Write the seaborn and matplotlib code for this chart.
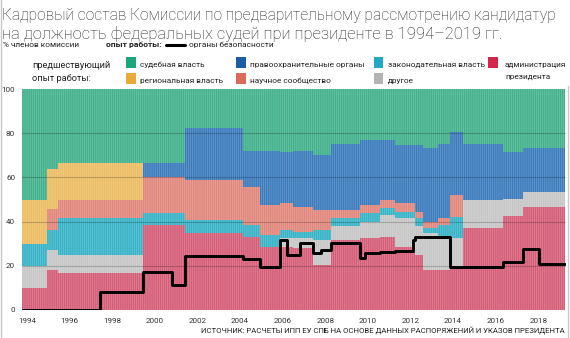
import numpy as np
import pandas as pd
import matplotlib
matplotlib.use("Agg")
import matplotlib.pyplot as plt
import seaborn as sns
from matplotlib import font_manager as fm
from matplotlib.patches import Rectangle
from matplotlib.lines import Line2D

# ---------------- data (shares of commission members, %) ----------------
years = [1993.77, 1994.92, 1995.47, 1999.45, 2001.42, 2004.15, 2004.94, 2005.88,
         2006.49, 2007.43, 2008.28, 2009.63, 2010.57, 2011.28, 2012.2, 2012.6,
         2013.3, 2013.86, 2014.47, 2016.35, 2017.29, 2018.04]
end_year = 2019.23
admin    = [10, 18.2, 16.7, 38.5, 34.7, 33.2, 28.6, 28.6, 27.9, 20.4, 31.5, 32.4, 33.2, 28.5, 25.0, 18.1, 18.1, 18.9, 37.2, 42.5, 46.8, 46.8]
other    = [10, 9.1, 8.3, 0, 0, 0, 0, 3.8, 4.5, 11.3, 6.5, 7.6, 9.8, 13.0, 13.0, 16.6, 14.3, 13.5, 12.8, 7.7, 6.7, 6.4]
legis    = [10, 9.1, 16.7, 5.2, 6.0, 5.3, 5.3, 3.8, 3.0, 4.5, 3.6, 3.7, 3.0, 3.0, 3.5, 2.3, 6.1, 9.6, 0, 0, 0, 0]
science  = [0, 9.1, 8.3, 16.6, 18.1, 17.3, 13.6, 12.0, 11.4, 9.0, 3.7, 3.8, 3.8, 3.8, 3.0, 3.0, 3.0, 10.0, 0, 0, 0, 0]
region   = [20, 18.1, 16.7, 0, 0, 0, 0, 0, 0, 0, 0, 0, 0, 0, 0, 0, 0, 0, 0, 0, 0, 0]
law      = [0, 0, 0, 6.1, 23.4, 16.3, 24.6, 23.5, 25.2, 24.9, 29.9, 29.4, 27.1, 26.4, 30.2, 33.2, 33.5, 28.7, 25.0, 21.4, 19.7, 20.0]
judicial = [50, 36.4, 33.3, 33.6, 17.8, 27.9, 27.9, 28.3, 28.0, 29.9, 24.8, 23.1, 23.1, 25.3, 25.3, 26.8, 25.0, 19.3, 25.0, 28.4, 26.8, 26.8]

sec_years = [1993.77, 1997.43, 1999.45, 2000.79, 2001.42, 2004.15, 2004.94, 2005.88,
             2006.19, 2006.82, 2007.43, 2007.78, 2008.28, 2009.63, 2009.87, 2010.57,
             2011.28, 2012.12, 2012.2, 2013.86, 2014.47, 2016.35, 2017.29, 2018.04]
security = [0, 8.3, 17.0, 11.3, 24.6, 22.9, 19.6, 31.7, 24.9, 30.2, 25.6, 27.1,
            30.2, 23.4, 25.6, 26.4, 26.8, 31.7, 33.2, 19.6, 19.3, 21.9, 27.6, 20.7]

layer_names = ["администрация президента", "другое", "законодательная власть",
               "научное сообщество", "региональная власть",
               "правоохранительные органы", "судебная власть"]
layers = [admin, other, legis, science, region, law, judicial]
area_colors = ["#d55c77", "#c6c6c6", "#36b2c6", "#e1867b", "#ecbc62", "#3a7abc", "#41b08b"]
legend_colors = ["#d2274a", "#b3b3b3", "#21a9c4", "#dc6a5c", "#e8aa38", "#1c5ca3", "#1da57b"]

x_ticks = list(range(1994, 2019, 2))
y_ticks = [0, 20, 40, 60, 80, 100]

title1 = "Кадровый состав Комиссии по предварительному рассмотрению кандидатур"
title2 = "на должность федеральных судей при президенте в 1994–2019 гг."
source = "ИСТОЧНИК: РАСЧЕТЫ ИПП ЕУ СПБ НА ОСНОВЕ ДАННЫХ РАСПОРЯЖЕНИЙ И УКАЗОВ ПРЕЗИДЕНТА"

# ---------------- style ----------------
sns.set_theme(style="white")
names = {f.name for f in fm.fontManager.ttflist}
MAIN = "Roboto" if "Roboto" in names else "DejaVu Sans"
plt.rcParams["font.family"] = [MAIN, "DejaVu Sans"]
plt.rcParams["hatch.linewidth"] = 0.45

W, H = 570, 338
fig = plt.figure(figsize=(W / 100, H / 100), dpi=100)
fig.patch.set_facecolor("white")
renderer = fig.canvas.get_renderer()

def fx(px):
    return px / W

def fy(py):
    return 1 - py / H

def size_for(s, target, weight="normal", base=10.0):
    t = fig.text(0, 0, s, fontsize=base, weight=weight)
    w = t.get_window_extent(renderer).width
    t.remove()
    return base * target / w

ax = fig.add_axes([fx(22), fy(310), fx(566) - fx(22), (310 - 89) / H])

# ---------------- stacked areas ----------------
xs = np.array(years + [end_year])
bottom = np.zeros(len(xs))
for vals, col in zip(layers, area_colors):
    v = np.array(vals + [vals[-1]], dtype=float)
    top = bottom + v
    ax.fill_between(xs, bottom, top, step="post", facecolor=col,
                    edgecolor=(1, 1, 1, 0.30), linewidth=0, hatch="|" * 8, zorder=2)
    bottom = top

for yv in [20, 40, 60, 80]:
    ax.axhline(yv, color=(0, 0, 0, 0.2), lw=0.8, zorder=3)

# ---------------- security line ----------------
df_sec = pd.DataFrame({"year": sec_years + [end_year], "share": security + [security[-1]]})
sns.lineplot(data=df_sec, x="year", y="share", drawstyle="steps-post", color="black",
             lw=2.1, ax=ax, legend=False, zorder=5)

ax.set_xlim(1993.765, 2019.3)
ax.set_ylim(0, 100)
ax.set_xticks(x_ticks)
ax.set_yticks(y_ticks)
ax.set_xlabel("")
ax.set_ylabel("")
for s in ax.spines.values():
    s.set_visible(False)
tick_size = size_for("1994", 18)
ax.tick_params(axis="both", length=0, labelsize=tick_size, colors="#333333")
ax.tick_params(axis="y", pad=5)
ax.tick_params(axis="x", pad=5.5)

# ---------------- titles ----------------
tsize = size_for(title1, 552, weight="light")
tsize2 = min(size_for(title2, 512, weight="light"), tsize * 1.06)
fig.text(fx(2), fy(20), title1, fontsize=tsize, va="baseline", color="#222222", weight="light")
fig.text(fx(2), fy(39), title2, fontsize=tsize2, va="baseline", color="#222222", weight="light")

# ---------------- legend ----------------
small = size_for("% членов комиссии", 76)
fig.text(fx(3), fy(45), "% членов комиссии", fontsize=small, va="center", color="#222222")
fig.text(fx(106), fy(45), "опыт работы:", fontsize=size_for("опыт работы:", 56, weight="bold"),
         weight="bold", va="center", color="#222222")
fig.add_artist(Line2D([fx(166), fx(185)], [fy(45), fy(45)], color="black", lw=2.2,
                      transform=fig.transFigure))
fig.text(fx(189), fy(45), "органы безопасности", fontsize=small, va="center", color="#222222")

hsize = size_for("предшествующий", 79)
fig.text(fx(32), fy(65), "предшествующий", fontsize=hsize, va="center", color="#222222")
fig.text(fx(32), fy(78.5), "опыт работы:", fontsize=hsize, va="center", color="#222222")

lsize = size_for("правоохранительные органы", 114)
leg_items = [
    (6, 125.5, 57, 139.5, 64.5),   # судебная
    (5, 235.5, 57, 250.5, 64.5),   # правоохранительные
    (2, 373.5, 57, 388, 64.5),     # законодательная
    (0, 488, 57, 505, 64.5),       # администрация
    (4, 125.5, 73.5, 139.5, 80.5), # региональная
    (3, 235.5, 73.5, 250.5, 80.5), # научное
    (1, 373.5, 73.5, 388, 80.5),   # другое
]
for idx, px, py, tx, ty in leg_items:
    fig.add_artist(Rectangle((fx(px), fy(py + 10.5)), 10 / W, 10.5 / H,
                             transform=fig.transFigure, facecolor=legend_colors[idx],
                             edgecolor="none"))
    label = layer_names[idx]
    if idx == 0:
        fig.text(fx(tx), fy(ty), "администрация", fontsize=lsize, va="center", color="#222222")
        fig.text(fx(tx), fy(77.5), "президента", fontsize=lsize, va="center", color="#222222")
    else:
        fig.text(fx(tx), fy(ty), label, fontsize=lsize, va="center", color="#222222")

# ---------------- source ----------------
fig.text(fx(565), fy(331), source, fontsize=size_for(source, 366), ha="right",
         va="center", color="#222222")

# ---------------- frame ----------------
fig.add_artist(Line2D([fx(0.5), fx(0.5)], [0, 1], color="#c8c8c8", lw=1, transform=fig.transFigure))
fig.add_artist(Line2D([fx(567.5), fx(567.5)], [0, fy(86)], color="#c8c8c8", lw=1, transform=fig.transFigure))

fig.savefig("out.png", dpi=100)
